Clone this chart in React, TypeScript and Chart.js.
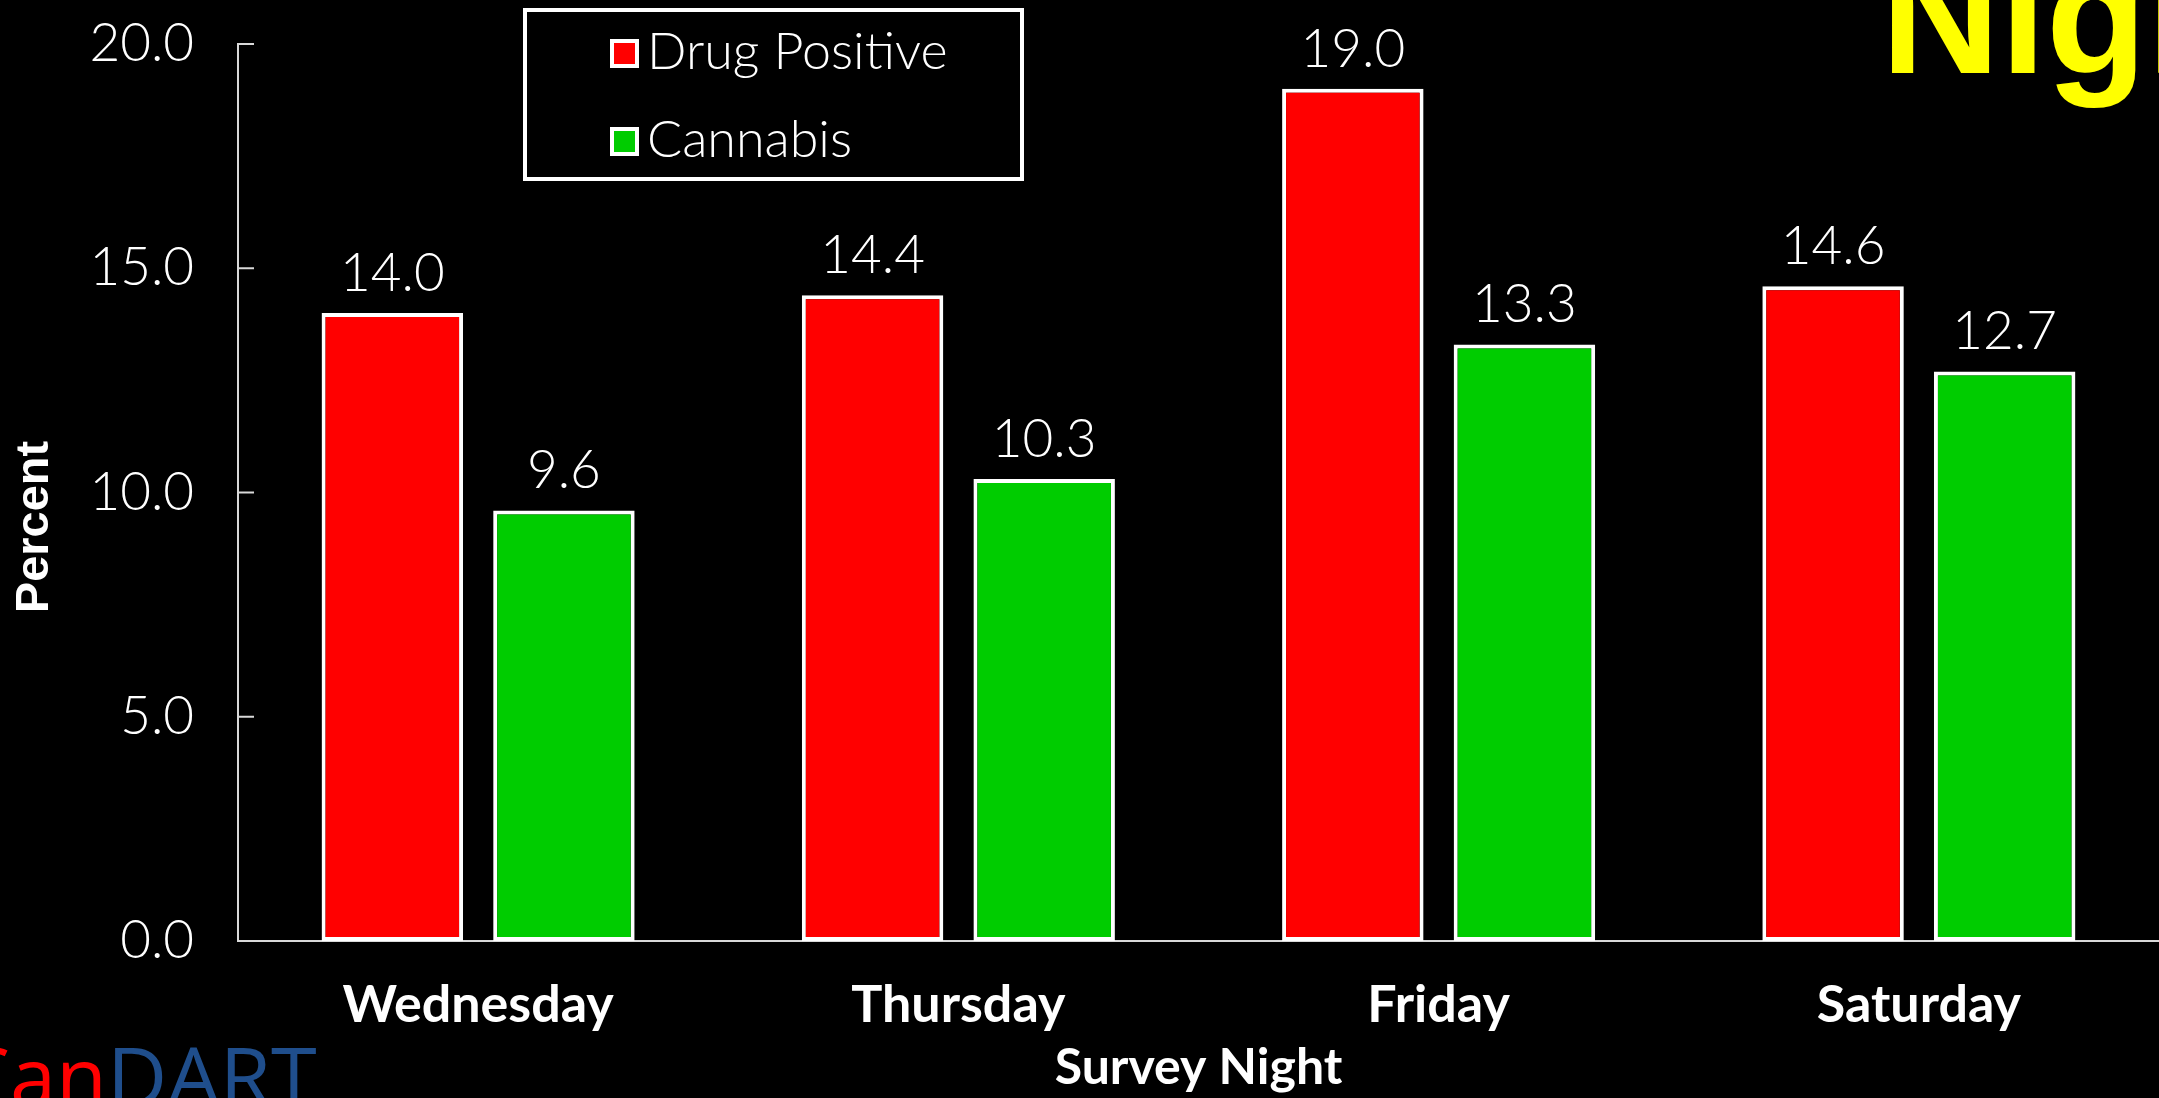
import React, { useEffect, useRef } from "react";
import { Chart, registerables } from "chart.js";

Chart.register(...registerables);

// ---- data ----
const categories = ["Wednesday", "Thursday", "Friday", "Saturday"];
const drugPositive = [14.0, 14.4, 19.0, 14.6];
const cannabis = [9.6, 10.3, 13.3, 12.7];
const seriesLabels = ["Drug Positive", "Cannabis"];
const yTicks = [0, 5, 10, 15, 20];
const yAxisTitle = "Percent";
const xAxisTitle = "Survey Night";
const headline = "Night";
const logoParts = ["Can", "DART"];

// ---- style ----
const W = 2159;
const H = 1098;
const RED = "#FF0000";
const GREEN = "#00CC00";
const WHITE = "#FFFFFF";
const AXIS = "#D9D9D9";
const YELLOW = "#FFFF00";
const LOGO_BLUE = "#1F4E8C";
const NUM_FAMILY = "Lato, 'DejaVu Sans', sans-serif";

const decorPlugin = {
  id: "decor",
  beforeDraw(chart: any) {
    const { ctx } = chart;
    ctx.save();
    ctx.fillStyle = "#000000";
    ctx.fillRect(0, 0, chart.width, chart.height);
    ctx.restore();
  },
  afterDraw(chart: any) {
    const { ctx, chartArea, scales } = chart;
    ctx.save();

    // inward y tick marks
    ctx.strokeStyle = AXIS;
    ctx.lineWidth = 2;
    yTicks.forEach((v) => {
      const y = scales.y.getPixelForValue(v);
      ctx.beginPath();
      ctx.moveTo(chartArea.left, y);
      ctx.lineTo(chartArea.left + 16, y);
      ctx.stroke();
    });

    // value labels
    ctx.fillStyle = WHITE;
    ctx.font = `300 53px ${NUM_FAMILY}`;
    ctx.textAlign = "center";
    ctx.textBaseline = "alphabetic";
    chart.data.datasets.forEach((ds: any, di: number) => {
      const meta = chart.getDatasetMeta(di);
      meta.data.forEach((el: any, i: number) => {
        ctx.fillText(Number(ds.data[i]).toFixed(1), el.x, el.y - 22);
      });
    });

    // legend box
    ctx.fillStyle = "#000000";
    ctx.fillRect(525, 10, 497, 169);
    ctx.strokeStyle = WHITE;
    ctx.lineWidth = 4;
    ctx.strokeRect(525, 10, 497, 169);
    const rows = [
      { sqY: 39, base: 69 },
      { sqY: 127, base: 157 },
    ];
    chart.data.datasets.forEach((ds: any, di: number) => {
      const r = rows[di];
      ctx.fillStyle = WHITE;
      ctx.fillRect(610, r.sqY, 29, 29);
      ctx.fillStyle = ds.backgroundColor;
      ctx.fillRect(614, r.sqY + 4, 21, 21);
      ctx.fillStyle = WHITE;
      ctx.font = `300 52px ${NUM_FAMILY}`;
      ctx.textAlign = "left";
      ctx.textBaseline = "alphabetic";
      ctx.fillText(ds.label, 647, r.base);
    });

    // y axis title
    ctx.save();
    ctx.translate(35.5, 527);
    ctx.rotate(-Math.PI / 2);
    ctx.fillStyle = WHITE;
    ctx.font = "bold 47px 'Liberation Sans', Arial, sans-serif";
    ctx.textAlign = "center";
    ctx.textBaseline = "middle";
    ctx.fillText(yAxisTitle, 0, 0);
    ctx.restore();

    // headline (cut off at right edge)
    ctx.fillStyle = YELLOW;
    ctx.font = "bold 165px 'Liberation Sans', Arial, sans-serif";
    ctx.textAlign = "left";
    ctx.textBaseline = "alphabetic";
    ctx.fillText(headline, 1881, 73);

    // logo
    ctx.font = "83px 'Open Sans', sans-serif";
    ctx.textBaseline = "alphabetic";
    ctx.textAlign = "left";
    ctx.fillStyle = LOGO_BLUE;
    ctx.fillText(logoParts[1], 107, 1107);
    ctx.textAlign = "right";
    ctx.fillStyle = RED;
    ctx.fillText(logoParts[0], 107, 1107);

    ctx.restore();
  },
};

export default function App() {
  const canvasRef = useRef<HTMLCanvasElement | null>(null);

  useEffect(() => {
    const canvas = canvasRef.current;
    if (!canvas) return;
    const barOpts = {
      borderColor: WHITE,
      borderWidth: 4,
      borderSkipped: false as const,
      categoryPercentage: 0.7146,
      barPercentage: 0.8245,
    };
    const chart = new Chart(canvas, {
      type: "bar",
      data: {
        labels: categories,
        datasets: [
          { label: seriesLabels[0], data: drugPositive, backgroundColor: RED, ...barOpts },
          { label: seriesLabels[1], data: cannabis, backgroundColor: GREEN, ...barOpts },
        ],
      },
      options: {
        responsive: false,
        maintainAspectRatio: false,
        animation: false,
        devicePixelRatio: 1,
        layout: { padding: { top: 44, left: 0, right: 0, bottom: 0 } },
        plugins: {
          legend: { display: false },
          tooltip: { enabled: false },
          title: { display: false },
        },
        scales: {
          x: {
            grid: { display: false, drawTicks: false },
            border: { display: true, color: AXIS, width: 2 },
            ticks: {
              color: WHITE,
              font: { family: "Lato, 'DejaVu Sans', sans-serif", weight: "bold", size: 52 },
              padding: 33,
              maxRotation: 0,
              autoSkip: false,
            },
            title: {
              display: true,
              text: xAxisTitle,
              color: WHITE,
              font: { family: "Lato, 'DejaVu Sans', sans-serif", weight: "bold", size: 50 },
              padding: { top: 0, bottom: 0 },
            },
            afterFit: (s: any) => {
              s.height = 157;
            },
          },
          y: {
            min: 0,
            max: 20,
            grid: { display: false, drawTicks: false },
            border: { display: true, color: AXIS, width: 2 },
            ticks: {
              stepSize: 5,
              color: WHITE,
              padding: 44,
              font: { family: "Lato, 'DejaVu Sans', sans-serif", weight: 300 as any, size: 53 },
              callback: (v: any) => Number(v).toFixed(1),
            },
            afterFit: (s: any) => {
              s.width = 238;
              s.paddingTop = 0;
              s.paddingBottom = 0;
            },
          },
        },
      },
      plugins: [decorPlugin],
    });
    return () => chart.destroy();
  }, []);

  return (
    <div
      style={{
        position: "fixed",
        left: 0,
        top: 0,
        width: W,
        height: H,
        background: "#000000",
        overflow: "hidden",
      }}
    >
      <canvas ref={canvasRef} width={W} height={H} style={{ display: "block", width: W, height: H }} />
    </div>
  );
}
